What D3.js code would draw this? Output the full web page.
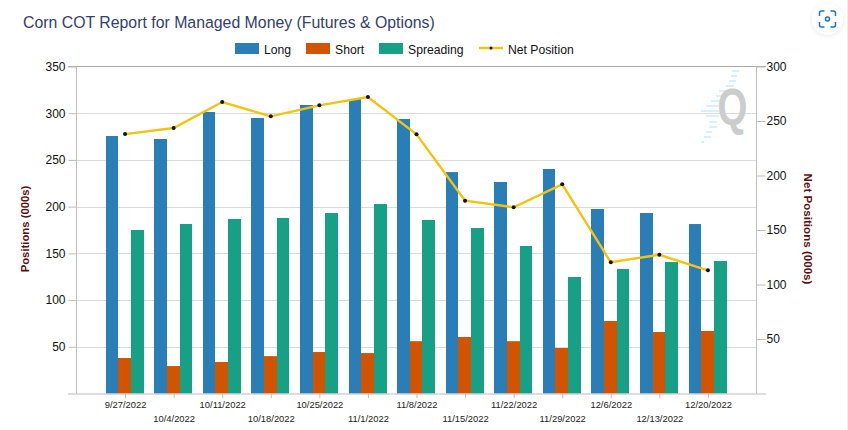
<!DOCTYPE html>
<html>
<head>
<meta charset="utf-8">
<script src="https://cdn.jsdelivr.net/npm/d3@7"></script>
<style>
  html, body { margin: 0; padding: 0; background: #fff; }
  text { font-family: "Liberation Sans", Arial, sans-serif; }
</style>
</head>
<body>
<div id="chart"></div>
<script>
// values, in thousands of positions
var dates = ["9/27/2022", "10/4/2022", "10/11/2022", "10/18/2022", "10/25/2022", "11/1/2022", "11/8/2022",
             "11/15/2022", "11/22/2022", "11/29/2022", "12/6/2022", "12/13/2022", "12/20/2022"];
var longPos = [275.6, 272.4, 301.3, 294.9, 308.8, 315, 293.8, 237, 226.4, 240.3, 197.5, 193.2, 181.4];
var shortPos = [38, 29.4, 33.7, 40, 44.4, 43.3, 56, 60.5, 56, 48.7, 77.6, 65.8, 66.9];
var spreading = [175, 181.4, 186.8, 187.9, 193.2, 202.8, 185.7, 177.1, 157.9, 124.7, 133.3, 140.7, 141.8];
var netPos = [238, 243.6, 267.4, 254.3, 264.4, 272, 237.8, 176.9, 170.8, 191.9, 120.4, 127.3, 113];

var seriesNames = ["Long", "Short", "Spreading"];
var seriesValues = [longPos, shortPos, spreading];
var seriesColors = ["#2a7eb8", "#d35400", "#16a085"];
var lineColor = "#f1c40f";

var leftTicks = [50, 100, 150, 200, 250, 300, 350];
var rightTicks = [50, 100, 150, 200, 250, 300];

var width = 848, height = 430;
var plot = { left: 76.5, right: 756.5, top: 66.5, bottom: 393.5 };

var svg = d3.select("#chart").append("svg")
    .attr("width", width)
    .attr("height", height)
    .style("display", "block");

var xScale = d3.scalePoint().domain(dates).range([plot.left, plot.right]).padding(1);
var barScale = d3.scaleBand().domain(seriesNames).range([-19.4, 18.6]);
var yLeft = d3.scaleLinear().domain([0, 350]).range([plot.bottom, plot.top]);
var yRight = d3.scaleLinear().domain([0, 300]).range([plot.bottom, plot.top]);

// soft shadow for the capture button
var shadow = svg.append("defs").append("filter")
    .attr("id", "soft")
    .attr("x", "-40%").attr("y", "-40%")
    .attr("width", "180%").attr("height", "180%");
shadow.append("feDropShadow")
    .attr("dx", 0).attr("dy", 1)
    .attr("stdDeviation", 2)
    .attr("flood-color", "#000")
    .attr("flood-opacity", 0.1);

// page edge on the right
svg.append("line")
    .attr("x1", 847.5).attr("x2", 847.5)
    .attr("y1", 0).attr("y2", height)
    .attr("stroke", "#ececec");

// title
svg.append("text")
    .attr("x", 23).attr("y", 28)
    .attr("font-size", "15.85px")
    .attr("fill", "#34406b")
    .text("Corn COT Report for Managed Money (Futures & Options)");

// grid lines
svg.append("g").selectAll("line")
    .data(leftTicks.slice(0, -1))
    .enter().append("line")
    .attr("x1", plot.left).attr("x2", plot.right)
    .attr("y1", d => Math.round(yLeft(d)) + 0.5)
    .attr("y2", d => Math.round(yLeft(d)) + 0.5)
    .attr("stroke", "#dadada");

// logo behind the bars
var logo = svg.append("g");
var stripes = [[732, 70, 7], [731, 75, 6], [729, 80, 7], [726, 85, 8], [719, 90, 12], [716, 95, 10], [711, 100, 10],
               [706, 105, 13], [701, 110, 18], [706, 115, 13], [709, 121, 8], [709, 126, 8],
               [706, 131, 6], [704, 136, 7], [701, 141, 3]];
logo.selectAll("rect")
    .data(stripes)
    .enter().append("rect")
    .attr("x", d => d[0]).attr("y", d => d[1])
    .attr("width", d => d[2]).attr("height", 2)
    .attr("fill", "#d5f1fb");
logo.append("text")
    .attr("transform", "translate(732.5, 125) scale(0.74, 1)")
    .attr("text-anchor", "middle")
    .attr("font-size", "52px")
    .attr("font-weight", "bold")
    .attr("fill", "#cccccc")
    .text("Q");

// bars
var groups = svg.append("g").selectAll("g")
    .data(seriesNames)
    .enter().append("g")
    .attr("fill", (d, i) => seriesColors[i]);

groups.selectAll("rect")
    .data((d, i) => seriesValues[i].map((v, j) => ({ name: d, date: dates[j], value: v })))
    .enter().append("rect")
    .attr("x", d => Math.round(xScale(d.date) + barScale(d.name)))
    .attr("width", d => Math.round(xScale(d.date) + barScale(d.name) + barScale.bandwidth()) - Math.round(xScale(d.date) + barScale(d.name)))
    .attr("y", d => yLeft(d.value))
    .attr("height", d => yLeft(0) - yLeft(d.value));

// frame
var axisColor = "#bdbdbd";
svg.append("line").attr("x1", 68).attr("x2", 766).attr("y1", plot.top).attr("y2", plot.top).attr("stroke", "#a8a8a8");
svg.append("line").attr("x1", 68).attr("x2", 766).attr("y1", plot.bottom + 0.5).attr("y2", plot.bottom + 0.5).attr("stroke", axisColor);
svg.append("line").attr("x1", plot.left).attr("x2", plot.left).attr("y1", plot.top).attr("y2", plot.bottom).attr("stroke", axisColor);
svg.append("line").attr("x1", plot.right).attr("x2", plot.right).attr("y1", plot.top).attr("y2", plot.bottom).attr("stroke", axisColor);

// left axis
var leftAxis = svg.append("g")
    .attr("transform", `translate(${plot.left}, 0)`)
    .call(d3.axisLeft(yLeft).tickValues(leftTicks).tickSize(8).tickPadding(3));
leftAxis.select(".domain").remove();
leftAxis.selectAll("line").attr("stroke", axisColor);
leftAxis.selectAll("text").attr("font-size", "12px").attr("font-family", null).attr("fill", "#111");

// right axis
var rightAxis = svg.append("g")
    .attr("transform", `translate(${plot.right}, 0)`)
    .call(d3.axisRight(yRight).tickValues(rightTicks).tickSize(9).tickPadding(1));
rightAxis.select(".domain").remove();
rightAxis.selectAll("line").attr("stroke", axisColor);
rightAxis.selectAll("text").attr("font-size", "12px").attr("font-family", null).attr("fill", "#111");

// bottom axis, labels staggered on two rows
var bottomAxis = svg.append("g")
    .attr("transform", `translate(0, ${plot.bottom + 0.5})`)
    .call(d3.axisBottom(xScale).tickSize(4));
bottomAxis.select(".domain").remove();
bottomAxis.selectAll("line").attr("stroke", axisColor);
bottomAxis.selectAll("text")
    .attr("font-size", "9.4px")
    .attr("font-family", null)
    .attr("fill", "#222")
    .attr("dy", null)
    .attr("y", (d, i) => i % 2 ? 28 : 14);

// net position line, on the right scale
var netLine = d3.line()
    .x((d, i) => xScale(dates[i]))
    .y(d => yRight(d));

svg.append("path")
    .datum(netPos)
    .attr("d", netLine)
    .attr("fill", "none")
    .attr("stroke", lineColor)
    .attr("stroke-width", 2.4);

svg.append("g").selectAll("circle")
    .data(netPos)
    .enter().append("circle")
    .attr("cx", (d, i) => xScale(dates[i]))
    .attr("cy", d => yRight(d))
    .attr("r", 2)
    .attr("fill", "#111");

// axis titles
svg.append("text")
    .attr("transform", `translate(29, 229) rotate(-90)`)
    .attr("text-anchor", "middle")
    .attr("font-size", "11.3px")
    .attr("font-weight", "bold")
    .attr("fill", "#5c1010")
    .text("Positions (000s)");

svg.append("text")
    .attr("transform", `translate(804, 229) rotate(90)`)
    .attr("text-anchor", "middle")
    .attr("font-size", "11.6px")
    .attr("font-weight", "bold")
    .attr("fill", "#5c1010")
    .text("Net Positions (000s)");

// legend
var legendX = [235, 306, 379];
var legend = svg.append("g");
seriesNames.forEach(function(name, i) {
    legend.append("rect")
        .attr("x", legendX[i]).attr("y", 43)
        .attr("width", 24).attr("height", 11)
        .attr("fill", seriesColors[i]);
    legend.append("text")
        .attr("x", legendX[i] + 29).attr("y", 54)
        .attr("font-size", "12.2px")
        .attr("fill", "#111")
        .text(name);
});
legend.append("line")
    .attr("x1", 479).attr("x2", 503).attr("y1", 48).attr("y2", 48)
    .attr("stroke", lineColor).attr("stroke-width", 2.4);
legend.append("circle").attr("cx", 491).attr("cy", 48).attr("r", 1.5).attr("fill", "#111");
legend.append("text")
    .attr("x", 508).attr("y", 54)
    .attr("font-size", "12.2px")
    .attr("fill", "#111")
    .text("Net Position");

// capture button, top right
var btn = svg.append("g").attr("transform", "translate(827.5, 19)");
btn.append("circle").attr("r", 15.5).attr("fill", "#fff").attr("filter", "url(#soft)");
btn.append("path")
    .attr("d", "M-8,-3 V-6 Q-8,-8 -6,-8 H-3 M3,-8 H6 Q8,-8 8,-6 V-3 M8,3 V6 Q8,8 6,8 H3 M-3,8 H-6 Q-8,8 -8,6 V3")
    .attr("fill", "none").attr("stroke", "#1a73c8").attr("stroke-width", 1.5);
btn.append("circle").attr("r", 2).attr("fill", "none").attr("stroke", "#1a73c8").attr("stroke-width", 1.5);
</script>
</body>
</html>
